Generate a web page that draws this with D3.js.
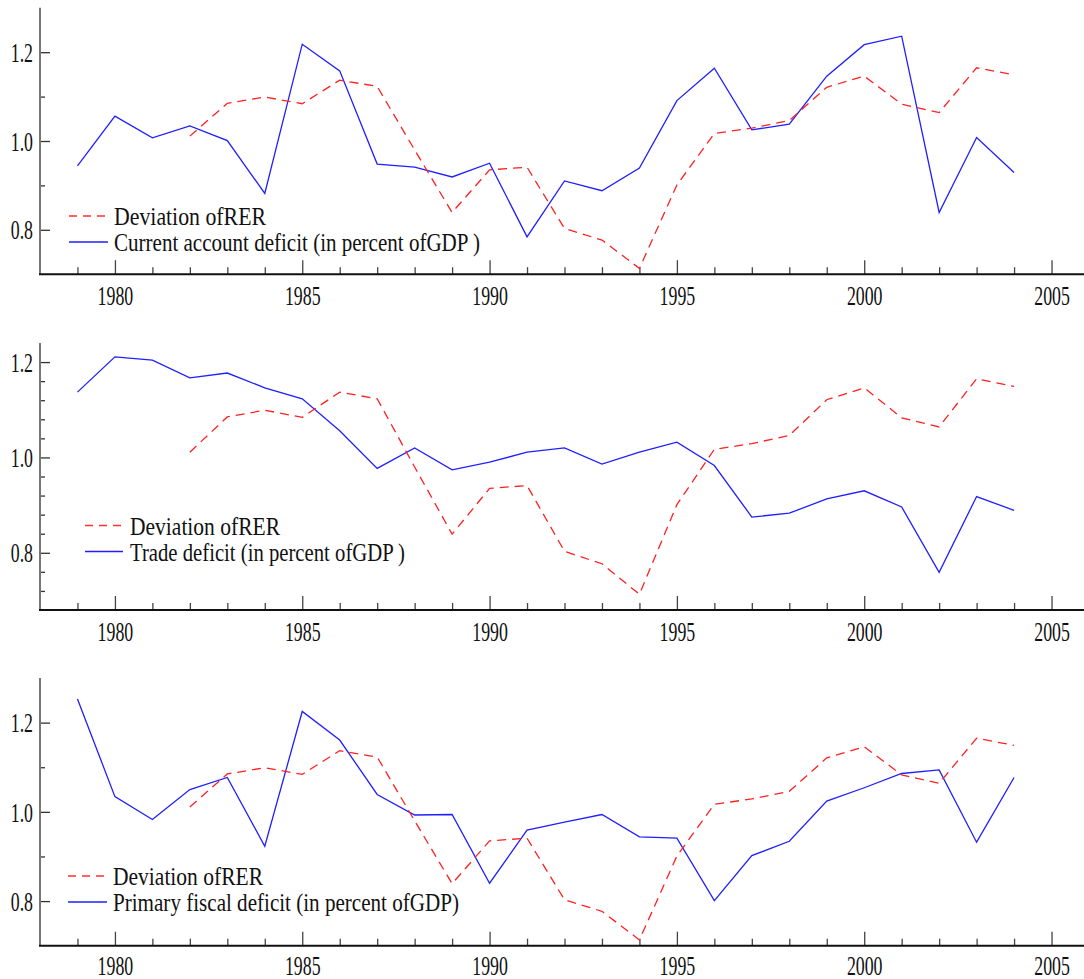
<!DOCTYPE html>
<meta charset="utf-8">
<style>
body { margin: 0; background: #fff; }
svg { display: block; }
.line { fill: none; stroke-width: 1.3px; stroke-linejoin: miter; }
</style>
<svg width="1084" height="979"></svg>
<script src="https://cdn.jsdelivr.net/npm/d3@7/dist/d3.min.js"></script>
<script>

// years of the deviation series and of the deficit series
var rerYears = d3.range(1982, 2005)
var defYears = d3.range(1979, 2005)

var rer = [1.011, 1.085, 1.099, 1.084, 1.137, 1.123, 0.98, 0.839, 0.935, 0.941, 0.803, 0.777,
           0.713, 0.901, 1.017, 1.029, 1.046, 1.121, 1.146, 1.083, 1.064, 1.165, 1.149]

var caDeficit = [0.944, 1.056, 1.007, 1.034, 1.001, 0.882, 1.218, 1.158, 0.948, 0.941, 0.919, 0.950, 0.784,
                 0.910, 0.888, 0.939, 1.091, 1.164, 1.025, 1.038, 1.146, 1.217, 1.236, 0.839, 1.008, 0.929]

var tradeDeficit = [1.137, 1.211, 1.204, 1.167, 1.177, 1.146, 1.123, 1.056, 0.977, 1.020, 0.974, 0.990, 1.011,
                    1.020, 0.986, 1.011, 1.032, 0.983, 0.875, 0.883, 0.913, 0.930, 0.896, 0.759, 0.918, 0.889]

var fiscalDeficit = [1.253, 1.034, 0.983, 1.050, 1.077, 0.923, 1.225, 1.161, 1.039, 0.993, 0.994, 0.840, 0.959,
                     0.977, 0.994, 0.944, 0.941, 0.801, 0.902, 0.934, 1.024, 1.054, 1.086, 1.094, 0.932, 1.077]

var rerLabel = "Deviation ofRER"
var panelLabels = ["Current account deficit (in percent ofGDP )",
                   "Trade deficit (in percent ofGDP )",
                   "Primary fiscal deficit (in percent ofGDP)"]

var FONT = "'Liberation Serif', 'DejaVu Serif', serif"

var svg = d3.select("svg")

var x = d3.scaleLinear().domain([1978, 2006]).range([40, 1089])

var panels = [
  { series: caDeficit, label: panelLabels[0], top: 7.8, bottom: 274.2, domain: [0.7, 1.3], step: 0.1,
    leg: { x1: 69, x2: 108, tx: 114, y: [216, 242], w: [152, 366] } },
  { series: tradeDeficit, label: panelLabels[1], top: 343, bottom: 610, domain: [0.68, 1.24], step: 0.04,
    leg: { x1: 85, x2: 123, tx: 130, y: [525.5, 551.5], w: [150, 275] } },
  { series: fiscalDeficit, label: panelLabels[2], top: 678, bottom: 945.7, domain: [0.7, 1.3], step: 0.1,
    leg: { x1: 68, x2: 107, tx: 113, y: [876, 902], w: [150, 346] } }
]

var sx = 0.66 // tick labels look squeezed sideways

panels.forEach(function(p, pi) {
  var y = d3.scaleLinear().domain(p.domain).range([p.bottom, p.top])
  var g = svg.append("g")

  // y axis: ticks point inward, labels on 0.8 / 1.0 / 1.2
  var ticks = []
  for (var v = Math.ceil(p.domain[0] / p.step + 1e-6); v * p.step < p.domain[1] - 1e-6; v++) ticks.push(+(v * p.step).toFixed(2))
  var major = [0.8, 1.0, 1.2]
  var minor = ticks.filter(function(t) { return major.indexOf(t) < 0 })

  var yMinor = g.append("g").attr("transform", "translate(40,0)")
    .call(d3.axisLeft(y).tickValues(minor).tickSize(-5).tickFormat(""))
  var yMajor = g.append("g").attr("transform", "translate(40,0)")
    .call(d3.axisLeft(y).tickValues(major).tickSize(-10).tickPadding(7).tickFormat(d3.format(".1f")))
  ;[yMinor, yMajor].forEach(function(a) {
    a.attr("font-family", null).attr("font-size", null)
    a.select(".domain").remove()
    a.selectAll("line").attr("stroke", "#333").attr("stroke-width", 1.3)
  })
  yMajor.selectAll("text")
    .style("font-family", FONT)
    .style("font-size", "27px")
    .attr("fill", "#111")
    .attr("x", -7 / sx)
    .attr("dy", "0.34em")
    .attr("transform", "scale(" + sx + ",1)")

  g.append("line")
    .attr("x1", 40).attr("x2", 40)
    .attr("y1", y(p.domain[1])).attr("y2", y(p.domain[0]))
    .attr("stroke", "#777").attr("stroke-width", 2)

  // x axis
  var xMinor = g.append("g").attr("transform", "translate(0," + p.bottom + ")")
    .call(d3.axisBottom(x).tickValues(d3.range(1979, 2005).filter(function(d) { return d % 5 })).tickSize(-7).tickFormat(""))
  var xMajor = g.append("g").attr("transform", "translate(0," + p.bottom + ")")
    .call(d3.axisBottom(x).tickValues([1980, 1985, 1990, 1995, 2000, 2005]).tickSize(-14).tickPadding(pi == 2 ? 10 : 12).tickFormat(d3.format("d")))
  ;[xMinor, xMajor].forEach(function(a) {
    a.attr("font-family", null).attr("font-size", null)
    a.select(".domain").remove()
    a.selectAll("line").attr("stroke", "#444").attr("stroke-width", 1.3)
  })
  xMajor.selectAll("text")
    .style("font-family", FONT)
    .style("font-size", "27px")
    .attr("fill", "#111")
    .attr("transform", "scale(" + sx + ",1)")

  g.append("line")
    .attr("x1", 39).attr("x2", 1084)
    .attr("y1", p.bottom).attr("y2", p.bottom)
    .attr("stroke", "#111").attr("stroke-width", 2)

  var line = d3.line()
    .x(function(d) { return x(d[0]) })
    .y(function(d) { return y(d[1]) })

  g.append("path")
    .attr("class", "line")
    .attr("d", line(d3.zip(defYears, p.series)))
    .attr("stroke", "#1f1fff")

  g.append("path")
    .attr("class", "line")
    .attr("d", line(d3.zip(rerYears, rer)))
    .attr("stroke", "#ff2020")
    .attr("stroke-dasharray", "9,6")

  // legend
  var L = p.leg
  var rows = [{ text: rerLabel, color: "#ff3030", dash: "8,6" },
              { text: p.label, color: "#1f1fff", dash: null }]
  rows.forEach(function(r, i) {
    g.append("line")
      .attr("x1", L.x1).attr("x2", L.x2)
      .attr("y1", L.y[i]).attr("y2", L.y[i])
      .attr("stroke", r.color).attr("stroke-width", 1.3)
      .attr("stroke-dasharray", r.dash)
    g.append("text")
      .attr("x", L.tx).attr("y", L.y[i] + 9)
      .attr("textLength", L.w[i])
      .attr("lengthAdjust", "spacingAndGlyphs")
      .style("font-family", FONT)
      .style("font-size", "25px")
      .attr("fill", "#111")
      .text(r.text)
  })
})

</script>
